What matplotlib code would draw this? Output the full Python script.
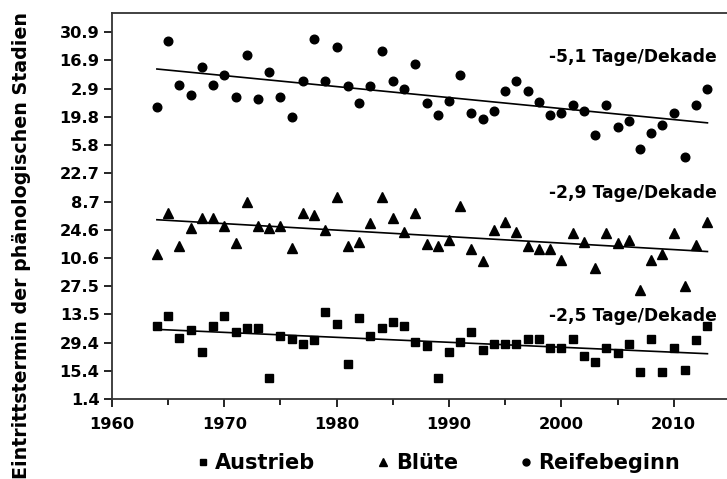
import numpy as np
import matplotlib
matplotlib.use('Agg')
import matplotlib.pyplot as plt
from matplotlib.ticker import MultipleLocator
from matplotlib.lines import Line2D

years = list(range(1964, 2014))

# day of year values
austrieb = [127.2, 132.4, 121.4, 125.1, 114.3, 127.2, 132.4, 124.1, 126.3, 126.3,
            101.3, 122.3, 120.9, 118.3, 120.4, 134.2, 128.1, 108.4, 131.4, 122.3,
            126.1, 129.2, 127.2, 119.2, 117.5, 101.3, 114.3, 119.2, 124.1, 115.3,
            118.2, 118.2, 118.2, 120.9, 120.9, 116.2, 116.2, 120.9, 112.3, 109.2,
            116.2, 114.0, 118.2, 104.4, 120.9, 104.4, 116.2, 105.2, 120.1, 127.2]
bluete = [163.0, 183.2, 167.1, 175.8, 181.0, 181.0, 176.9, 168.3, 189.0, 177.0,
          176.0, 177.0, 166.1, 183.2, 182.4, 174.9, 191.1, 167.1, 169.1, 178.2,
          191.1, 181.0, 174.1, 183.2, 168.1, 167.1, 169.9, 186.8, 165.3, 159.5,
          174.9, 179.0, 174.1, 167.1, 165.3, 165.3, 160.0, 173.3, 169.1, 155.9,
          173.3, 168.3, 169.9, 145.1, 160.0, 163.0, 173.3, 147.1, 167.5, 179.0]
reife = [236.1, 268.9, 246.9, 242.1, 256.0, 246.9, 251.9, 240.9, 261.9, 240.0,
         253.2, 240.9, 231.0, 248.9, 269.9, 248.9, 265.9, 246.1, 238.1, 246.1,
         263.9, 248.9, 244.9, 257.2, 238.1, 231.9, 239.0, 252.0, 233.0, 230.0,
         234.1, 244.1, 248.9, 244.1, 238.3, 231.9, 233.0, 237.1, 234.0, 222.1,
         237.1, 226.0, 229.2, 215.0, 223.1, 226.9, 233.0, 211.2, 237.1, 244.9]

ytick_pos = [91, 105, 119, 133, 147, 161, 175, 189, 203, 217, 231, 245, 259, 273]
ytick_lab = ['1.4', '15.4', '29.4', '13.5', '27.5', '10.6', '24.6', '8.7',
             '22.7', '5.8', '19.8', '2.9', '16.9', '30.9']
trend_text = ['-2,5 Tage/Dekade', '-2,9 Tage/Dekade', '-5,1 Tage/Dekade']
trend_y = [132.2, 193.3, 260.8]

plt.rcParams['font.family'] = 'DejaVu Sans'
plt.rcParams['font.weight'] = 'bold'

fig = plt.figure(figsize=(7.27, 4.79), dpi=100)
ax = fig.add_axes([0.154, 0.167, 0.85, 0.806])

x = np.array(years)
series = [(austrieb, 's', 5.8), (bluete, '^', 6.8), (reife, 'o', 6.2)]
for (vals, mk, ms), txt, ty in zip(series, trend_text, trend_y):
    ax.plot(x, vals, mk, color='black', markersize=ms, linestyle='none')
    k, d = np.polyfit(x, vals, 1)
    ax.plot([x[0], x[-1]], [k * x[0] + d, k * x[-1] + d], color='black', lw=1.2)
    ax.text(2013.8, ty, txt, ha='right', va='center', fontsize=12.3, fontweight='bold')

ax.set_xlim(1960, 2015)
ax.set_ylim(91, 282.6)
ax.set_yticks(ytick_pos)
ax.set_yticklabels(ytick_lab)
ax.xaxis.set_major_locator(MultipleLocator(10))
ax.xaxis.set_minor_locator(MultipleLocator(5))
ax.tick_params(axis='both', which='both', direction='out', labelsize=11.7, colors='black')
ax.tick_params(axis='y', length=6, width=1.2, pad=3)
ax.tick_params(axis='x', which='major', length=6, width=1.2, pad=7)
ax.tick_params(axis='x', which='minor', length=4, width=1.2)
for s in ax.spines.values():
    s.set_linewidth(1.3)
    s.set_color('#333333')
for lab in ax.get_xticklabels() + ax.get_yticklabels():
    lab.set_fontweight('bold')

fig.text(0.03, 0.4875, 'Eintrittstermin der phänologischen Stadien', rotation=90,
         ha='center', va='center', fontsize=13.7, fontweight='bold')

handles = [Line2D([], [], marker='s', color='black', linestyle='none', markersize=5),
           Line2D([], [], marker='^', color='black', linestyle='none', markersize=5.5),
           Line2D([], [], marker='o', color='black', linestyle='none', markersize=5)]
fig.legend(handles, ['Austrieb', 'Blüte', 'Reifebeginn'], loc='center', ncol=3,
           bbox_to_anchor=(0.6, 0.033), frameon=False, handletextpad=0.1,
           columnspacing=2.75, handlelength=1.0, prop={'size': 15, 'weight': 'bold'})

fig.savefig('out.png', dpi=100)
